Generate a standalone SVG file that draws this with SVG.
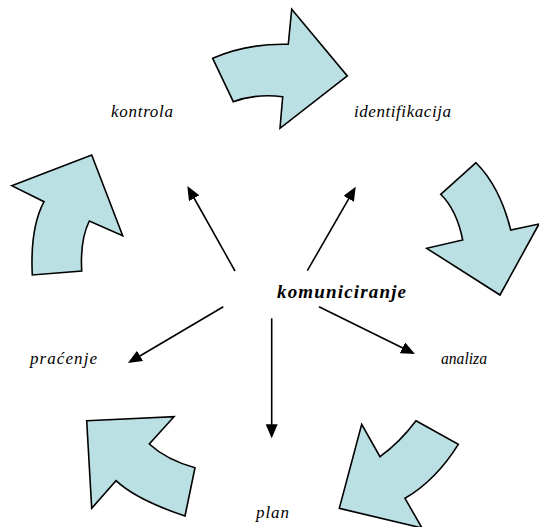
<svg xmlns="http://www.w3.org/2000/svg" width="539" height="527" viewBox="0 0 539 527">
<style>
.blk{fill:#bbe0e3;stroke:#000;stroke-width:1.6;stroke-linejoin:miter}
.ln{stroke:#000;stroke-width:1.6;fill:none;marker-end:url(#ah)}
.lbl{font-family:"Liberation Serif","Times New Roman",serif;font-style:italic;font-size:17px;fill:#000}
.ctr{font-family:"Liberation Serif","Times New Roman",serif;font-style:italic;font-weight:bold;font-size:19px;fill:#000}
</style>
<defs>
<marker id="ah" markerUnits="userSpaceOnUse" markerWidth="14" markerHeight="12" refX="10" refY="6" orient="auto">
<path d="M0,0 L14,6 L0,12 z" fill="#000"/>
</marker>
</defs>
<rect width="539" height="527" fill="#fff"/>
<g id="arrow-identifikacija"><path class="blk" d="M212.7,58.3 Q246.7,43.3 288.3,44.3 L291.7,9.3 L347.3,76 L280,128.3 L282.7,96.7 Q256.7,93.3 233.3,101.7 Z"/></g>
<g id="arrow-analiza"><path class="blk" d="M440.7,194.3 L476,162.7 Q500,186.7 510.7,230 L539,224 L500,295 L426.7,248.3 L462.7,240 Q456.7,210 440.7,194.3 Z"/></g>
<g id="arrow-plan"><path class="blk" d="M416,420.7 L458.3,444.3 Q436,480 405,498.3 L422,528 L339.3,508.3 L361.7,424.3 L380,456.7 Q400,442 416,420.7 Z"/></g>
<g id="arrow-pracenje"><path class="blk" d="M86.7,420.7 L174,416.7 L149.3,444 Q166.7,460 195,467.7 L185,516 Q136.7,500 116,480.7 L91.7,508.3 Z"/></g>
<g id="arrow-kontrola"><path class="blk" d="M11.7,185.7 L91.7,155 L122.7,235.7 L89.3,221 Q80,240 81.7,271 L32.3,275 Q30,228 44,201.7 Z"/></g>
<g id="connectors">
<line class="ln" x1="235" y1="271" x2="189.3" y2="189.5"/>
<line class="ln" x1="307.3" y1="270.7" x2="353.7" y2="190.2"/>
<line class="ln" x1="319" y1="306.7" x2="411.4" y2="352.2"/>
<line class="ln" x1="271.7" y1="318.3" x2="271.7" y2="434.3"/>
<line class="ln" x1="223.3" y1="306.7" x2="131.4" y2="361"/>
</g>
<g id="center"><text class="ctr" x="277" y="298" textLength="129" lengthAdjust="spacing">komuniciranje</text></g>
<g id="label-kontrola"><text class="lbl" x="111" y="117" textLength="62" lengthAdjust="spacing">kontrola</text></g>
<g id="label-identifikacija"><text class="lbl" x="354" y="117" textLength="97" lengthAdjust="spacing">identifikacija</text></g>
<g id="label-analiza"><text class="lbl" x="441" y="364" textLength="46" lengthAdjust="spacingAndGlyphs">analiza</text></g>
<g id="label-pracenje"><text class="lbl" x="30" y="364" textLength="67" lengthAdjust="spacing">praćenje</text></g>
<g id="label-plan"><text class="lbl" x="256" y="518" textLength="33" lengthAdjust="spacing">plan</text></g>
</svg>
